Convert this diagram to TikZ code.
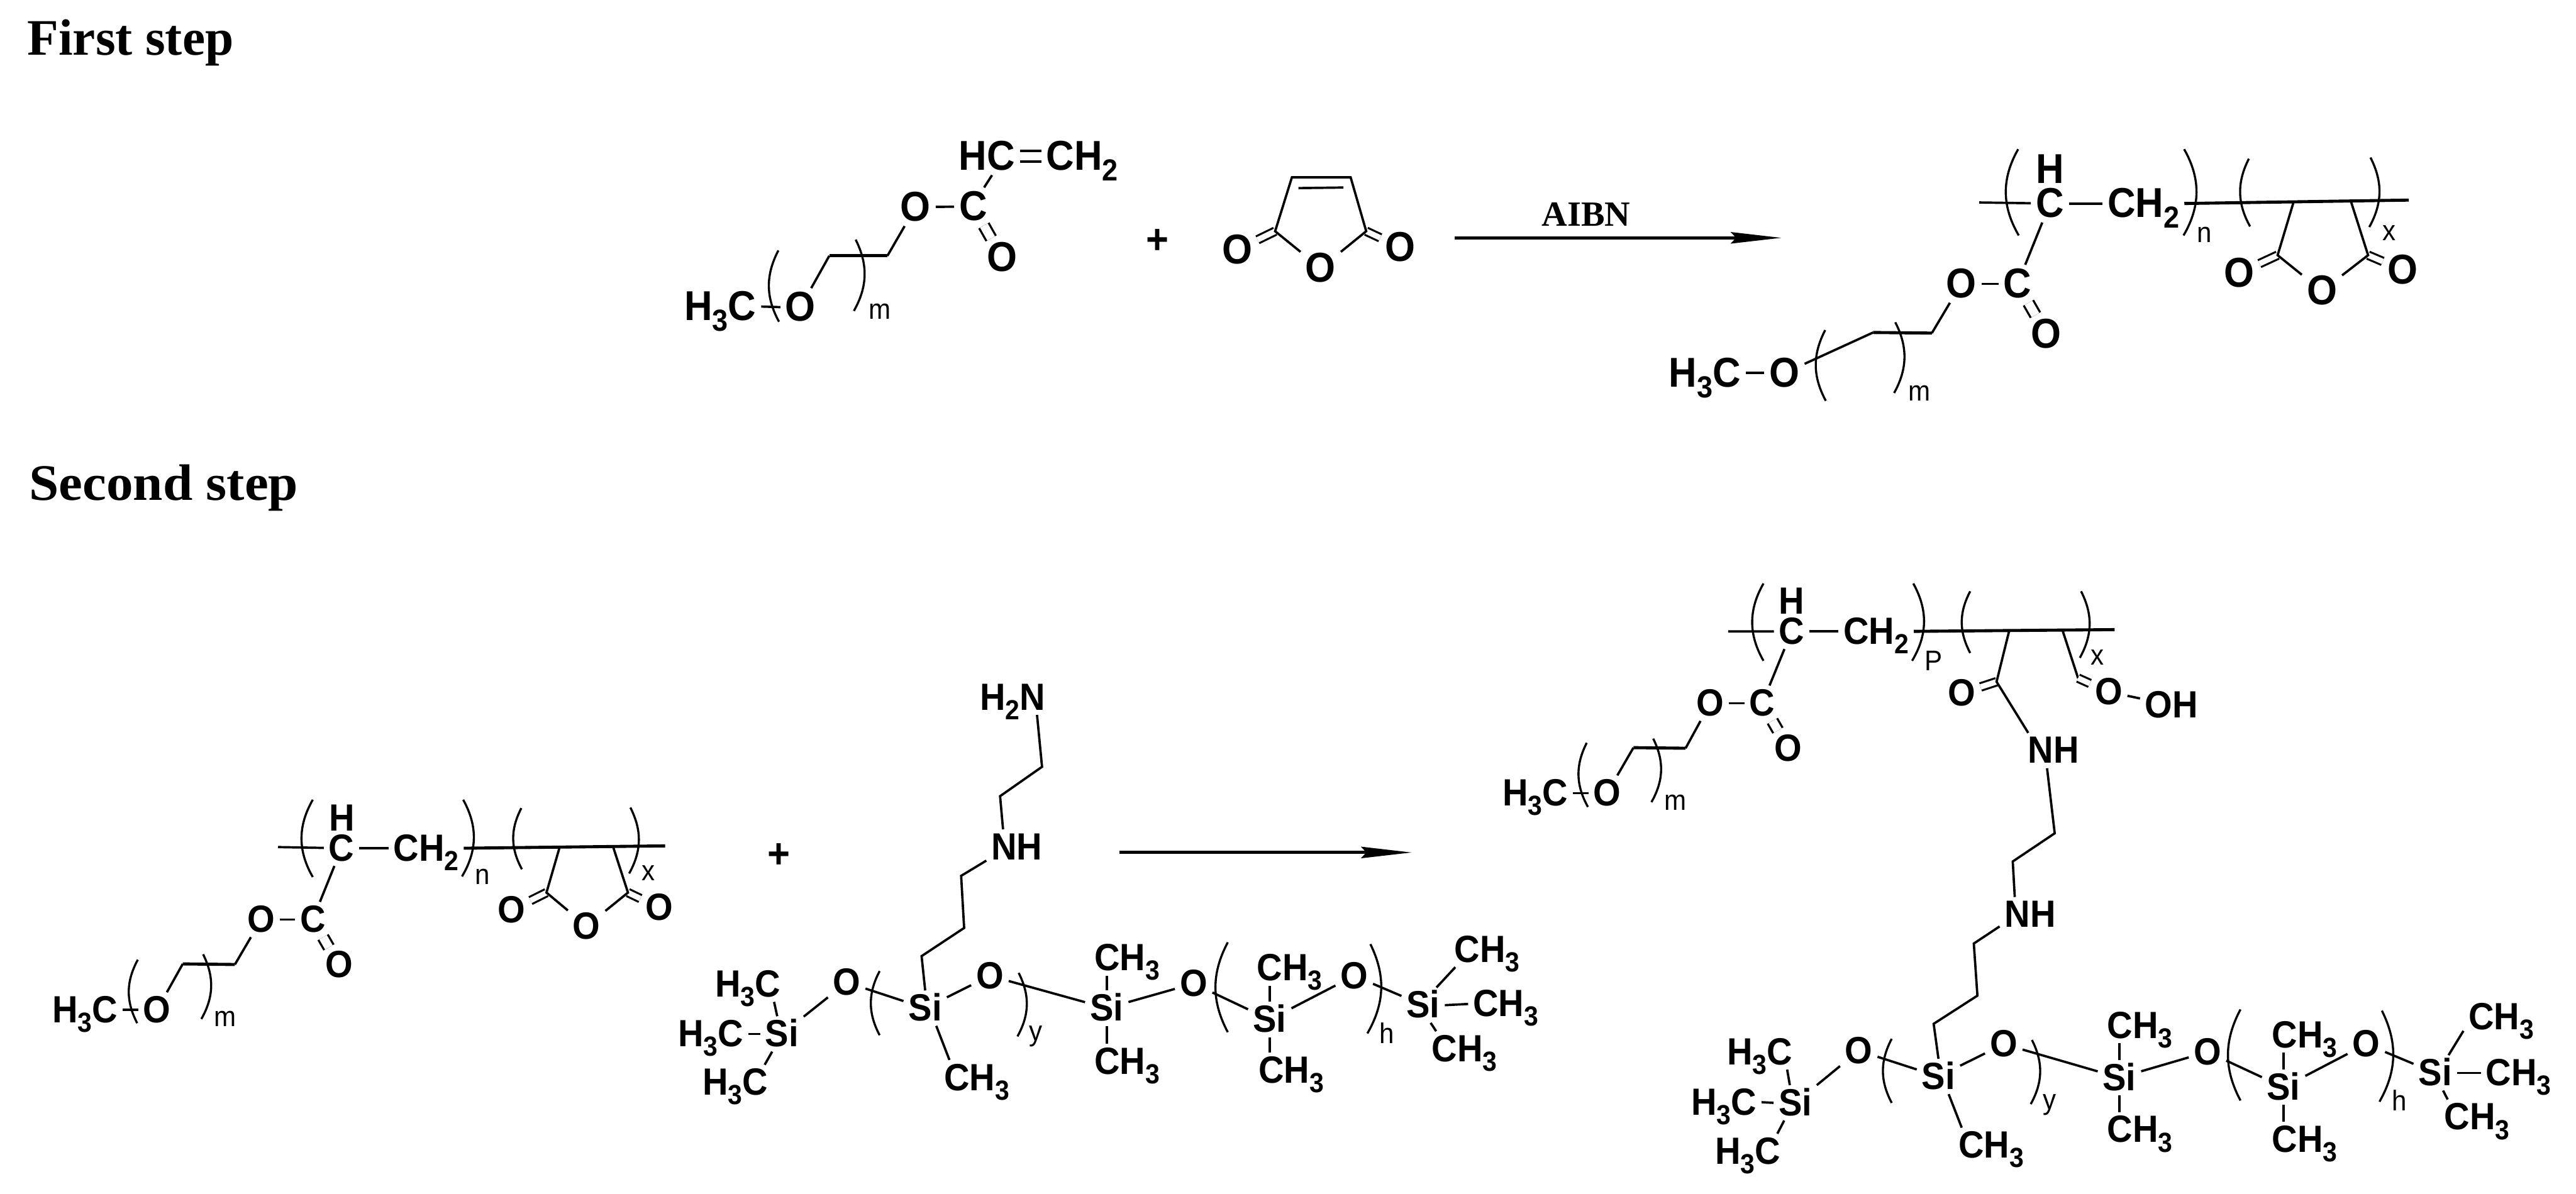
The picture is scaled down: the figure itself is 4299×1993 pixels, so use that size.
\documentclass[tikz,border=0pt]{standalone}
\usepackage{fontspec}
\setmainfont[FakeStretch=.93]{Liberation Sans}
\newfontfamily\titlefont{Liberation Serif}
\usetikzlibrary{arrows.meta}
\newcommand{\subn}[1]{\raisebox{-.25em}{\scalebox{.73}{#1}}}

\begin{document}
\begin{tikzpicture}
  [x=.01cm,y=-.01cm,
   atomL/.style={anchor=base,inner sep=2.2pt,text height=13.25pt,text depth=0pt,font=\fontsize{19.8}{21}\selectfont\bfseries},
   atomS/.style={anchor=base,inner sep=2.2pt,text height=12pt,text depth=0pt,font=\fontsize{18}{19}\selectfont\bfseries},
   idx/.style={anchor=base west,inner sep=0pt,font=\fontsize{13.5}{15}\selectfont},
   plus/.style={inner sep=0pt,font=\fontsize{19.8}{21}\selectfont\bfseries},
   steptitle/.style={anchor=base west,inner sep=0pt,font=\fontsize{24.3}{26}\titlefont\bfseries},
   bond/.style={draw,line width=1.1pt},
   heavy/.style={draw,line width=1.45pt},
   brk/.style={draw,line width=1pt},
   dbond/.style={draw,double,double distance=4.1pt,line width=1pt},
   rbond/.style={draw,double,double distance=2.6pt,line width=.95pt},
   rx/.style={draw,line width=1.4pt,-{Stealth[length=24pt,width=5.4pt,inset=2.5pt]}}]

  \useasboundingbox (0,0) rectangle (4299,1993);

  \node[steptitle] (t1) at (45,92) {First step};
  \node[steptitle] (t2) at (48,835) {\scalebox{1.045}[1]{Second step}};

  \node[atomL] (hcA) at (1647,284) {HC};
  \node[atomL] (chA) at (1806,284) {CH\subn{2}};
  \node[atomL] (cA) at (1624,368) {C};
  \node[atomL] (oA) at (1528,369) {O};
  \node[atomL] (dA) at (1672,453) {O};
  \node[atomL] (eA) at (1336,536) {O};
  \node[atomL] (meA) at (1202,535) {H\subn{3}C};
  \node[idx] (mA) at (1449,533) {m};
  \coordinate (a1) at (1481,427);
  \coordinate (a2) at (1384,427);
  \draw[dbond] (hcA.east) -- (chA.west);
  \draw[bond] (hcA.-75) -- (cA.60);
  \draw[bond] (oA) -- (cA);
  \draw[dbond] (cA) -- (dA);
  \draw[bond] (oA) -- (a1);
  \draw[heavy] (a1) -- (a2);
  \draw[bond] (a2) -- (eA);
  \draw[bond] (meA.east) -- (eA.west);
  \draw[brk] (1299,418) to[bend right=28] (1300,537);
  \draw[brk] (1428,400) to[bend left=28] (1425,519);

  \node[plus] (pl1) at (1932,403) {+};

  \node[atomL] (ma1) at (2065,440) {O};
  \node[atomL] (ma2) at (2337,436) {O};
  \node[atomL] (ma3) at (2204,471) {O};
  \coordinate (m1) at (2128,386);
  \coordinate (m2) at (2156,296);
  \coordinate (m3) at (2254,296);
  \coordinate (m4) at (2280,386);
  \coordinate (m5) at (2167,314);
  \coordinate (m6) at (2242,313);
  \draw[rbond] (m1) -- (ma1);
  \draw[rbond] (m4) -- (ma2);
  \draw[bond] (ma3) -- (m1) -- (m2) -- (m3) -- (m4) -- (ma3);
  \draw[bond] (m5) -- (m6);

  \coordinate (ar1) at (2428,397);
  \coordinate (ar2) at (2973,397);
  \draw[rx] (ar1) -- (ar2);
  \node[anchor=base,inner sep=0pt,font=\fontsize{16.8}{18}\titlefont\bfseries] (aibn) at (2647,377) {AIBN};

  \node[atomL] (hB) at (3421,306) {H};
  \node[atomL] (cB) at (3421,363) {C};
  \node[atomL] (chB) at (3577,363) {CH\subn{2}};
  \node[atomL] (ecB) at (3367,497) {C};
  \node[atomL] (oB) at (3273,497) {O};
  \node[atomL] (dB) at (3415,581) {O};
  \node[atomL] (eB) at (2978,646) {O};
  \node[atomL] (meB) at (2845,646) {H\subn{3}C};
  \node[atomL] (r1B) at (3737,479) {O};
  \node[atomL] (r2B) at (4010,474) {O};
  \node[atomL] (r3B) at (3875,509) {O};
  \node[idx] (nB) at (3666,405) {n};
  \node[idx] (xB) at (3975,401) {x};
  \node[idx] (mB) at (3184,669) {m};
  \coordinate (b0) at (3303,338);
  \coordinate (b1) at (3224,556);
  \coordinate (b2) at (3126,555);
  \coordinate (b3) at (3828,336);
  \coordinate (b4) at (3801,426);
  \coordinate (b5) at (3923,335);
  \coordinate (b6) at (3952,426);
  \coordinate (b9) at (4020,334);
  \draw[bond] (b0) -- (cB);
  \draw[bond] (cB) -- (chB.west);
  \draw[heavy] (chB.east) -- (b9);
  \draw[bond] (cB) -- (ecB);
  \draw[bond] (oB) -- (ecB);
  \draw[dbond] (ecB) -- (dB);
  \draw[bond] (oB) -- (b1);
  \draw[heavy] (b1) -- (b2);
  \draw[bond] (b2) -- (eB);
  \draw[bond] (meB.east) -- (eB.west);
  \draw[rbond] (b4) -- (r1B);
  \draw[rbond] (b6) -- (r2B);
  \draw[bond] (b3) -- (b4) -- (r3B) -- (b6) -- (b5);
  \draw[brk] (3368,249) to[bend right=30] (3369,393);
  \draw[brk] (3645,249) to[bend left=30] (3644,393);
  \draw[brk] (3753,265) to[bend right=28] (3755,378);
  \draw[brk] (3956,263) to[bend left=28] (3954,379);
  \draw[brk] (3046,551) to[bend right=28] (3047,669);
  \draw[brk] (3163,538) to[bend left=28] (3161,656);

  \node[atomS] (hC) at (571,1387) {H};
  \node[atomS] (cC) at (570,1437) {C};
  \node[atomS] (chC) at (711,1437) {CH\subn{2}};
  \node[atomS] (ecC) at (522,1556) {C};
  \node[atomS] (oC) at (436,1556) {O};
  \node[atomS] (dC) at (566,1632) {O};
  \node[atomS] (eC) at (262,1707) {O};
  \node[atomS] (meC) at (142,1707) {H\subn{3}C};
  \node[atomS] (r1C) at (854,1540) {O};
  \node[atomS] (r2C) at (1100,1536) {O};
  \node[atomS] (r3C) at (979,1567) {O};
  \node[idx] (nC) at (792,1476) {n};
  \node[idx] (xC) at (1070,1470) {x};
  \node[idx] (mC) at (357,1713) {m};
  \coordinate (c0) at (464,1414);
  \coordinate (c1) at (392,1610);
  \coordinate (c2) at (305,1609);
  \coordinate (c3) at (934,1414);
  \coordinate (c4) at (912,1490);
  \coordinate (c5) at (1023,1413);
  \coordinate (c6) at (1048,1490);
  \coordinate (c9) at (1110,1412);
  \draw[bond] (c0) -- (cC);
  \draw[bond] (cC) -- (chC.west);
  \draw[heavy] (chC.east) -- (c9);
  \draw[bond] (cC) -- (ecC);
  \draw[bond] (oC) -- (ecC);
  \draw[dbond] (ecC) -- (dC);
  \draw[bond] (oC) -- (c1);
  \draw[heavy] (c1) -- (c2);
  \draw[bond] (c2) -- (eC);
  \draw[bond] (meC.east) -- (eC.west);
  \draw[rbond] (c4) -- (r1C);
  \draw[rbond] (c6) -- (r2C);
  \draw[bond] (c3) -- (c4) -- (r3C) -- (c6) -- (c5);
  \draw[brk] (522,1335) to[bend right=30] (522,1464);
  \draw[brk] (773,1335) to[bend left=30] (771,1463);
  \draw[brk] (870,1349) to[bend right=28] (871,1451);
  \draw[brk] (1052,1348) to[bend left=28] (1050,1458);
  \draw[brk] (230,1602) to[bend right=28] (229,1708);
  \draw[brk] (339,1593) to[bend left=28] (336,1701);

  \node[plus] (pl2) at (1300,1428) {+};

  \node[atomS] (h2nD) at (1690,1185) {H\subn{2}N};
  \node[atomS] (nhD) at (1697,1435) {NH};
  \node[atomS] (s0D) at (1305,1747) {Si};
  \node[atomS] (s1D) at (1544,1704) {Si};
  \node[atomS] (s2D) at (1847,1704) {Si};
  \node[atomS] (s3D) at (2119,1723) {Si};
  \node[atomS] (s4D) at (2375,1699) {Si};
  \node[atomS] (o0D) at (1413,1661) {O};
  \node[atomS] (o1D) at (1652,1650) {O};
  \node[atomS] (o2D) at (1992,1663) {O};
  \node[atomS] (o3D) at (2260,1650) {O};
  \node[atomS] (me1D) at (1248,1664) {H\subn{3}C};
  \node[atomS] (me2D) at (1186,1747) {H\subn{3}C};
  \node[atomS] (me3D) at (1227,1828) {H\subn{3}C};
  \node[atomS] (me4D) at (1630,1820) {CH\subn{3}};
  \node[atomS] (me5D) at (1881,1620) {CH\subn{3}};
  \node[atomS] (me6D) at (1881,1793) {CH\subn{3}};
  \node[atomS] (me7D) at (2152,1637) {CH\subn{3}};
  \node[atomS] (me8D) at (2155,1808) {CH\subn{3}};
  \node[atomS] (me9D) at (2482,1606) {CH\subn{3}};
  \node[atomS] (me10D) at (2513,1697) {CH\subn{3}};
  \node[atomS] (me11D) at (2444,1772) {CH\subn{3}};
  \node[idx] (yD) at (1717,1737) {y};
  \node[idx] (kD) at (2301,1742) {h};
  \coordinate (d1) at (1739,1280);
  \coordinate (d2) at (1669,1329);
  \coordinate (d3) at (1604,1462);
  \coordinate (d4) at (1609,1549);
  \coordinate (d5) at (1538,1596);
  \draw[bond] (h2nD.-36) -- (d1) -- (d2) -- (nhD.128);
  \draw[bond] (nhD.204) -- (d3) -- (d4) -- (d5) -- (s1D.north);
  \draw[bond] (s0D) -- (o0D) -- (s1D) -- (o1D) -- (s2D) -- (o2D) -- (s3D) -- (o3D) -- (s4D);
  \draw[bond] (me1D.-34) -- (s0D.105);
  \draw[bond] (me2D.east) -- (s0D.west);
  \draw[bond] (me3D.31) -- (s0D.-119);
  \draw[bond] (s1D.-58) -- (me4D.147);
  \draw[bond] (s2D.north) -- (s2D.north |- me5D.south);
  \draw[bond] (s2D.south) -- (s2D.south |- me6D.north);
  \draw[bond] (s3D.north) -- (s3D.north |- me7D.south);
  \draw[bond] (s3D.south) -- (s3D.south |- me8D.north);
  \draw[bond] (s4D.53) -- (me9D.209);
  \draw[bond] (s4D.east) -- (me10D.west);
  \draw[bond] (s4D.-67) -- (me11D.148);
  \draw[brk] (1468,1621) to[bend right=28] (1468,1728);
  \draw[brk] (1700,1624) to[bend left=28] (1698,1730);
  \draw[brk] (2049,1573) to[bend right=28] (2049,1723);
  \draw[brk] (2287,1576) to[bend left=28] (2282,1725);

  \coordinate (ar3) at (1868,1423);
  \coordinate (ar4) at (2356,1423);
  \draw[rx] (ar3) -- (ar4);

  \node[atomS] (hE) at (2990,1025) {H};
  \node[atomS] (cE) at (2990,1075) {C};
  \node[atomS] (chE) at (3131,1075) {CH\subn{2}};
  \node[atomS] (ecE) at (2941,1195) {C};
  \node[atomS] (oE) at (2854,1195) {O};
  \node[atomS] (dE) at (2984,1270) {O};
  \node[atomS] (eE) at (2682,1345) {O};
  \node[atomS] (meE) at (2562,1345) {H\subn{3}C};
  \node[atomS] (o4E) at (3274,1178) {O};
  \node[atomS] (o5E) at (3519,1176) {O};
  \node[atomS] (ohE) at (3624,1198) {OH};
  \node[atomS] (nh1E) at (3427,1274) {NH};
  \node[atomS] (nh2E) at (3388,1548) {NH};
  \node[idx] (pE) at (3211,1119) {P};
  \node[idx] (xE) at (3489,1110) {x};
  \node[idx] (mE) at (2777,1352) {m};
  \node[atomS] (s0E) at (2996,1862) {Si};
  \node[atomS] (s1E) at (3235,1818) {Si};
  \node[atomS] (s2E) at (3537,1820) {Si};
  \node[atomS] (s3E) at (3811,1836) {Si};
  \node[atomS] (s4E) at (4064,1812) {Si};
  \node[atomS] (o0E) at (3102,1775) {O};
  \node[atomS] (o1E) at (3344,1764) {O};
  \node[atomS] (o2E) at (3684,1777) {O};
  \node[atomS] (o3E) at (3949,1764) {O};
  \node[atomS] (me1E) at (2937,1777) {H\subn{3}C};
  \node[atomS] (me2E) at (2877,1861) {H\subn{3}C};
  \node[atomS] (me3E) at (2917,1943) {H\subn{3}C};
  \node[atomS] (me4E) at (3323,1933) {CH\subn{3}};
  \node[atomS] (me5E) at (3571,1733) {CH\subn{3}};
  \node[atomS] (me6E) at (3571,1907) {CH\subn{3}};
  \node[atomS] (me7E) at (3846,1749) {CH\subn{3}};
  \node[atomS] (me8E) at (3846,1923) {CH\subn{3}};
  \node[atomS] (me9E) at (4174,1719) {CH\subn{3}};
  \node[atomS] (me10E) at (4203,1812) {CH\subn{3}};
  \node[atomS] (me11E) at (4134,1886) {CH\subn{3}};
  \node[idx] (yE) at (3409,1852) {y};
  \node[idx] (kE) at (3991,1854) {h};
  \coordinate (e0) at (2884,1054);
  \coordinate (e1) at (2813,1249);
  \coordinate (e2) at (2726,1248);
  \coordinate (e3) at (3353,1053);
  \coordinate (e4) at (3332,1138);
  \coordinate (e5) at (3442,1052);
  \coordinate (e6) at (3468,1132);
  \coordinate (e7) at (3429,1391);
  \coordinate (e8) at (3359,1438);
  \coordinate (e9) at (3529,1051);
  \coordinate (e10) at (3294,1575);
  \coordinate (e11) at (3300,1662);
  \coordinate (e12) at (3227,1709);
  \draw[bond] (e0) -- (cE);
  \draw[bond] (cE) -- (chE.west);
  \draw[heavy] (chE.east) -- (e9);
  \draw[bond] (cE) -- (ecE);
  \draw[bond] (oE) -- (ecE);
  \draw[dbond] (ecE) -- (dE);
  \draw[bond] (oE) -- (e1);
  \draw[heavy] (e1) -- (e2);
  \draw[bond] (e2) -- (eE);
  \draw[bond] (meE.east) -- (eE.west);
  \draw[rbond] (e4) -- (o4E);
  \draw[bond] (e3) -- (e4) -- (nh1E.145);
  \draw[bond] (e5) -- (e6);
  \draw[rbond] (e6) -- (o5E);
  \draw[bond] (o5E) -- (ohE);
  \draw[bond] (nh1E.-110) -- (e7) -- (e8) -- (nh2E.131);
  \draw[bond] (nh2E.201) -- (e10) -- (e11) -- (e12) -- (s1E.north);
  \draw[brk] (2943,974) to[bend right=30] (2943,1103);
  \draw[brk] (3193,974) to[bend left=30] (3191,1103);
  \draw[brk] (3288,987) to[bend right=28] (3288,1090);
  \draw[brk] (3473,987) to[bend left=28] (3471,1098);
  \draw[brk] (2648,1240) to[bend right=28] (2650,1347);
  \draw[brk] (2759,1233) to[bend left=28] (2756,1339);
  \draw[bond] (s0E) -- (o0E) -- (s1E) -- (o1E) -- (s2E) -- (o2E) -- (s3E) -- (o3E) -- (s4E);
  \draw[bond] (me1E.-33) -- (s0E.107);
  \draw[bond] (me2E.east) -- (s0E.west);
  \draw[bond] (me3E.31) -- (s0E.-122);
  \draw[bond] (s1E.-60) -- (me4E.149);
  \draw[bond] (s2E.north) -- (s2E.north |- me5E.south);
  \draw[bond] (s2E.south) -- (s2E.south |- me6E.north);
  \draw[bond] (s3E.north) -- (s3E.north |- me7E.south);
  \draw[bond] (s3E.south) -- (s3E.south |- me8E.north);
  \draw[bond] (s4E.53) -- (me9E.200);
  \draw[bond] (s4E.east) -- (me10E.west);
  \draw[bond] (s4E.-66) -- (me11E.149);
  \draw[brk] (3157,1734) to[bend right=28] (3157,1841);
  \draw[brk] (3391,1736) to[bend left=28] (3389,1843);
  \draw[brk] (3739,1685) to[bend right=28] (3739,1837);
  \draw[brk] (3975,1687) to[bend left=28] (3971,1839);
\end{tikzpicture}
\end{document}
